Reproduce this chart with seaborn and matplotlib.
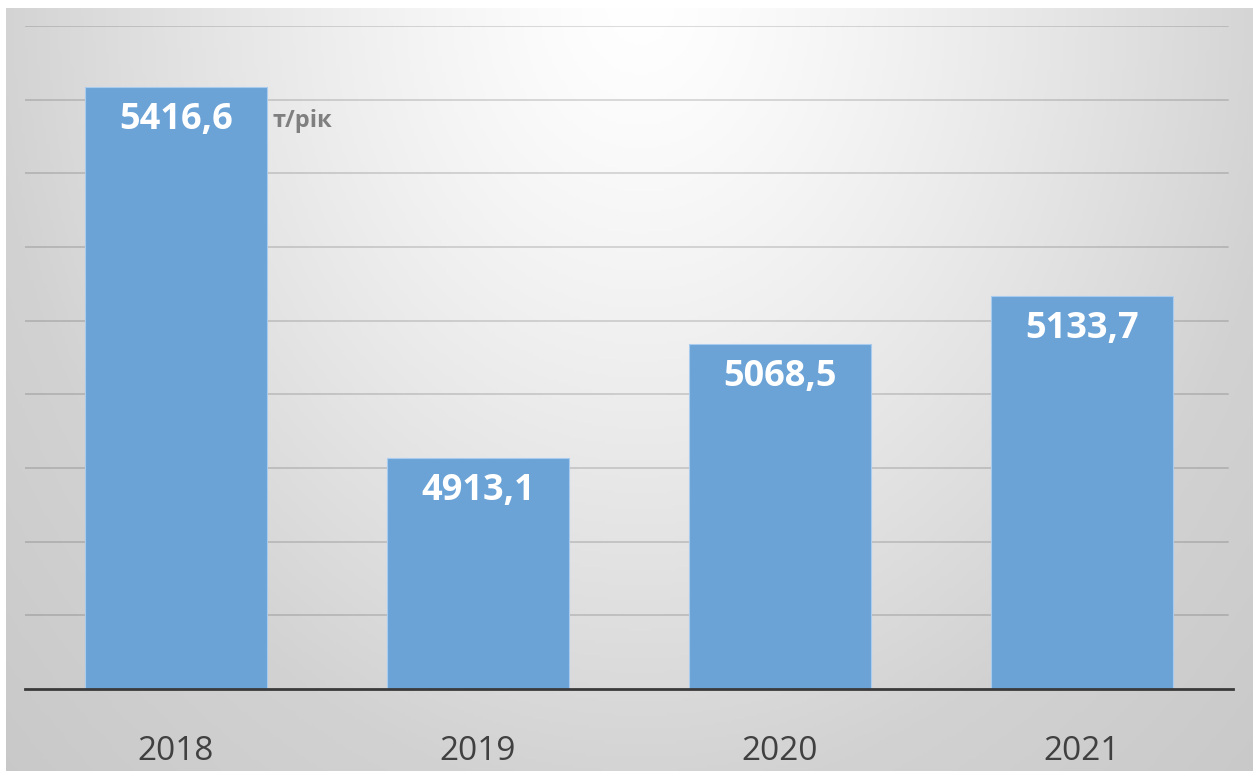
import numpy as np
import pandas as pd
import matplotlib
matplotlib.use("Agg")
import matplotlib.pyplot as plt
import seaborn as sns

years = ["2018", "2019", "2020", "2021"]
values = [5416.6, 4913.1, 5068.5, 5133.7]
labels = ["5416,6", "4913,1", "5068,5", "5133,7"]
unit_label = "т/рік"
y_ticks = [4600, 4700, 4800, 4900, 5000, 5100, 5200, 5300, 5400, 5500]

sns.set_theme(style="white")
plt.rcParams['font.family'] = ['Open Sans', 'DejaVu Sans']

W, H = 1259, 771
fig = plt.figure(figsize=(W / 100, H / 100), dpi=100)
fig.patch.set_facecolor("white")

# background radial gradient
bg = fig.add_axes([6 / W, 0, (1253 - 6) / W, (771 - 8) / H])
bg.set_axis_off()
gx = np.linspace(6, 1253, 400)
gy = np.linspace(8, 771, 250)
X, Y = np.meshgrid(gx, gy)
cx, cy = 640, 0
r = np.sqrt(((X - cx) / 650) ** 2 + ((Y - cy) / 800) ** 2)
drop = np.where(r <= 1, 45 * r ** 1.3, 45 + 25 * (r - 1))
val = 255 - drop
img = np.dstack([val, val, val]) / 255.0
bg.imshow(np.clip(img, 0, 1), aspect="auto", extent=[0, 1, 0, 1], origin="upper")
bg.set_xlim(0, 1)
bg.set_ylim(0, 1)

ax = fig.add_axes([25 / W, (771 - 689) / H, (1233 - 25) / W, (689 - 26) / H])
ax.patch.set_alpha(0)

df = pd.DataFrame({"year": years, "value": values})
sns.barplot(data=df, x="year", y="value", color="#6ba3d7", saturation=1,
            width=0.6, ax=ax, edgecolor="#a9cbee", linewidth=0.8, zorder=3)

ax.set_ylim(y_ticks[0], y_ticks[-1])
ax.set_xlim(-0.5, 3.5)
ax.set_yticks(y_ticks)
for t in y_ticks[1:]:
    ax.axhline(t, color="black", alpha=0.15, lw=1.3, zorder=1, xmax=0.996)
ax.tick_params(axis="y", left=False, labelleft=False)
ax.tick_params(axis="x", bottom=False, labelsize=24, labelcolor="#404040", pad=27)
for s in ["top", "right", "left"]:
    ax.spines[s].set_visible(False)
ax.spines["bottom"].set_color("#3a3a3a")
ax.spines["bottom"].set_linewidth(2)
ax.spines["bottom"].set_zorder(4)
ax.set_xlabel("")
ax.set_ylabel("")

for i, (v, lab) in enumerate(zip(values, labels)):
    ax.annotate(lab, (i, v), xytext=(0, -33), textcoords="offset pixels",
                ha="center", va="center", fontsize=26, fontweight="bold",
                color="white", zorder=5)

ax.annotate(unit_label, (0.3, values[0]), xytext=(6, -34), textcoords="offset pixels",
            ha="left", va="center", fontsize=17, fontweight="bold",
            color="#7f7f7f", zorder=5)

fig.savefig("out.png", dpi=100)
